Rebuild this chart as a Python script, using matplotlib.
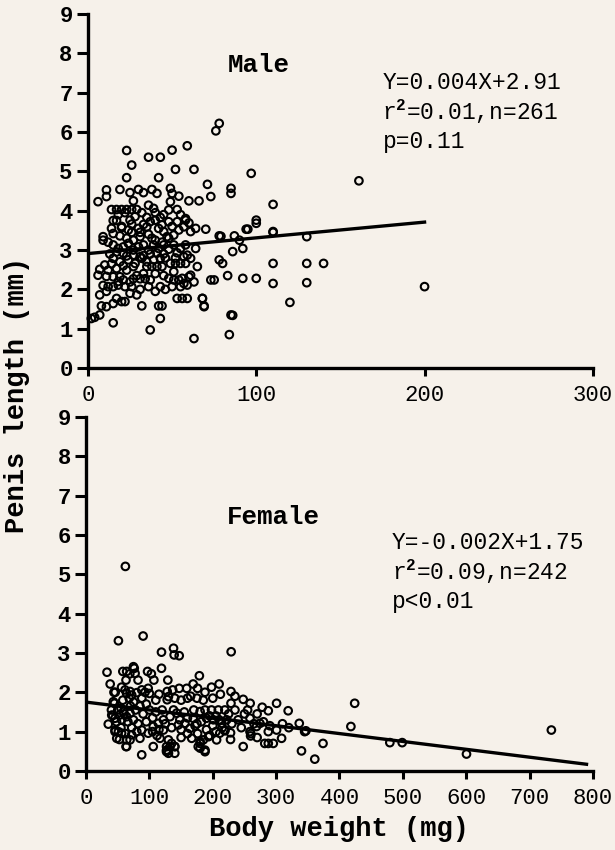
import matplotlib
matplotlib.use("Agg")
import matplotlib.pyplot as plt
import numpy as np

plt.rcParams['font.family'] = ['Liberation Mono', 'DejaVu Sans']
plt.rcParams['mathtext.fontset'] = 'custom'
plt.rcParams['mathtext.rm'] = 'Liberation Mono:bold'
plt.rcParams['mathtext.it'] = 'Liberation Mono:bold'

BG = '#f6f1ea'

# Male: body weight (mg) vs penis length (mm)
male_x = [76, 78, 23, 59, 36, 43, 50, 26, 52, 63, 23, 42, 97, 71, 11, 19, 25, 30, 33, 38,
          41, 49, 50, 54, 11, 6, 60, 66, 73, 85, 85, 110, 27, 36, 39, 14, 17, 20, 23, 26,
          29, 49, 48, 53, 43, 35, 37, 15, 17, 25, 26, 40, 44, 48, 53, 58, 60, 57, 64, 70,
          100, 100, 94, 110, 14, 20, 24, 30, 35, 9, 9, 15, 19, 23, 27, 31, 38, 42, 45, 47,
          51, 54, 61, 78, 87, 79, 90, 95, 110, 130, 15, 18, 21, 24, 27, 30, 33, 36, 39, 42,
          45, 48, 51, 55, 58, 21, 27, 37, 45, 53, 92, 86, 64, 31, 33, 41, 43, 57, 61, 59,
          15, 19, 24, 28, 32, 78, 80, 110, 130, 140, 65, 10, 7, 12, 17, 23, 27, 35, 38, 41,
          44, 49, 52, 55, 58, 6, 11, 15, 19, 21, 25, 27, 31, 34, 37, 48, 51, 54, 56, 57,
          60, 63, 61, 73, 75, 83, 92, 100, 110, 130, 200, 120, 68, 69, 86, 84, 63, 12, 15, 18,
          22, 26, 36, 43, 50, 55, 59, 7, 17, 22, 29, 53, 56, 59, 68, 69, 8, 11, 15, 20,
          32, 42, 44, 43, 85, 2, 4, 7, 15, 37, 18, 22, 28, 32, 40, 45, 55, 58, 33, 20,
          50, 31, 36, 40, 44, 12, 48, 26, 17, 23, 35, 39, 46, 52, 13, 29, 33, 40, 45, 51,
          21, 14, 18, 31, 40, 46, 25, 11, 9, 161]
male_y = [6.03, 6.22, 5.53, 5.65, 5.36, 5.36, 5.54, 5.16, 5.05, 5.05, 4.84, 4.84, 4.95, 4.67, 4.53, 4.54, 4.46, 4.54, 4.46, 4.54,
          4.44, 4.57, 4.44, 4.37, 4.36, 4.23, 4.25, 4.25, 4.36, 4.57, 4.44, 4.16, 4.25, 4.14, 4.06, 4.03, 4.03, 4.03, 4.03, 4.03,
          4.03, 4.23, 4.02, 4.03, 3.83, 3.83, 3.72, 3.75, 3.75, 3.76, 3.66, 3.76, 3.64, 3.72, 3.72, 3.76, 3.69, 3.59, 3.55, 3.53,
          3.76, 3.68, 3.53, 3.47, 3.55, 3.57, 3.51, 3.55, 3.59, 3.34, 3.25, 3.42, 3.36, 3.30, 3.25, 3.34, 3.30, 3.55, 3.47, 3.34,
          3.38, 3.51, 3.47, 3.36, 3.36, 3.35, 3.25, 3.53, 3.45, 3.34, 3.13, 3.04, 3.08, 3.17, 3.00, 3.08, 3.13, 3.00, 3.13, 3.04,
          3.13, 3.02, 3.13, 3.04, 3.13, 2.92, 2.87, 2.90, 2.90, 2.93, 3.04, 2.96, 3.04, 2.83, 2.86, 2.92, 2.79, 2.83, 2.79, 2.87,
          2.79, 2.70, 2.75, 2.66, 2.79, 2.75, 2.66, 2.66, 2.66, 2.66, 2.58, 2.62, 2.51, 2.49, 2.53, 2.49, 2.58, 2.58, 2.58, 2.58,
          2.58, 2.66, 2.66, 2.66, 2.66, 2.36, 2.33, 2.32, 2.32, 2.24, 2.19, 2.27, 2.27, 2.27, 2.24, 2.28, 2.24, 2.24, 2.28, 2.15,
          2.32, 2.19, 2.36, 2.24, 2.24, 2.35, 2.28, 2.28, 2.15, 2.17, 2.07, 1.67, 1.77, 1.56, 1.34, 0.85, 0.75, 2.07, 2.07, 2.11,
          2.07, 2.07, 2.07, 2.07, 2.07, 2.07, 2.11, 1.86, 1.77, 1.69, 1.86, 1.77, 1.77, 1.77, 1.77, 1.58, 1.58, 1.56, 1.64, 1.69,
          1.58, 1.58, 1.58, 1.26, 1.35, 1.26, 1.29, 1.35, 1.15, 0.97, 3.90, 3.95, 3.85, 3.95, 3.95, 3.90, 3.90, 3.80, 3.65, 3.60,
          3.60, 3.45, 3.40, 3.25, 3.20, 3.20, 3.30, 3.45, 2.95, 2.85, 2.70, 2.75, 2.80, 2.80, 2.90, 2.35, 2.40, 2.40, 2.35, 2.45,
          2.60, 2.65, 2.20, 2.00, 1.95, 2.00, 1.90, 1.95, 2.10, 4.76]

# Female
female_x = [51, 90, 119, 138, 139, 147, 229, 33, 38, 46, 58, 64, 69, 76, 82, 63, 97, 103, 107, 119,
            129, 98, 93, 56, 61.5, 69.4, 80, 87.8, 128, 128, 130, 136.7, 147, 158.8, 169, 178.8, 176, 187.7, 198, 210,
            160, 228.7, 228.7, 248, 259, 278, 287.6, 300.7, 319, 336.5, 347, 424, 418, 44.7, 42, 35, 45.7, 51, 52.6, 63,
            87.8, 106, 127, 127, 135, 140, 177, 180, 187.7, 248, 258.7, 258.7, 259.7, 282, 287.6, 295.5, 308.6, 340, 361, 374,
            228, 219, 228, 287.6, 300.7, 269, 274.4, 479.5, 499, 600.5, 734.5, 62, 74.7, 77.3, 44, 64, 72, 100,
            43, 40.5, 45.7, 52.6, 56, 59, 64, 69.4, 74.7, 45.7, 48.4, 56, 64, 72, 80, 87.8, 85, 69.4, 64, 116.7,
            122, 130, 132.5, 140, 127, 140, 130, 98, 106, 114, 122, 132.5, 143, 145.6, 156, 164, 169, 180, 187.7, 198,
            208.7, 219, 190, 201, 214, 222, 166.7, 180, 187.7, 180, 185, 193, 206, 211, 219, 50,
            55, 60, 66, 72, 78, 82, 90, 95, 100, 105, 110, 115, 120, 125, 135, 138, 148, 150, 155, 160,
            170, 172, 176, 182, 190, 195, 200, 205, 210, 215, 225, 230, 235, 240, 245, 250, 255, 265, 270, 280,
            290, 310, 320, 58, 68, 75, 88, 110, 115, 140, 150, 165, 175, 185, 200, 212, 235, 40, 48, 55,
            62, 70, 85, 95, 105, 112, 150, 160, 175, 195, 205, 260, 270, 345]
female_y = [3.31, 3.43, 3.02, 3.12, 2.95, 2.93, 3.03, 2.51, 2.21, 2.00, 2.53, 2.53, 2.47, 2.61, 2.31, 2.31, 2.53, 2.47, 2.31, 2.61,
            2.31, 2.10, 2.00, 2.13, 2.06, 2.02, 1.99, 2.06, 2.02, 1.81, 1.89, 2.06, 2.10, 2.10, 2.21, 2.42, 2.10, 2.00, 2.13, 2.21,
            1.85, 2.02, 1.72, 1.82, 1.72, 1.62, 1.53, 1.72, 1.53, 1.21, 1.02, 1.72, 1.13, 1.72, 1.41, 1.19, 1.00, 1.00, 0.80, 0.62,
            0.41, 0.62, 0.62, 0.49, 0.70, 0.62, 0.62, 0.70, 0.49, 0.62, 1.34, 1.00, 0.89, 0.70, 0.70, 0.70, 0.83, 0.51, 0.30, 0.70,
            0.80, 1.02, 0.97, 1.00, 1.04, 1.13, 1.21, 0.72, 0.72, 0.43, 1.04, 5.20, 2.65, 2.48, 2.00, 1.97, 1.93, 1.97,
            1.76, 1.42, 1.34, 1.42, 1.30, 1.51, 1.38, 1.47, 1.30, 1.04, 0.83, 0.96, 0.79, 0.92, 1.00, 1.04, 0.83, 0.79, 0.62, 0.83,
            1.04, 0.79, 0.62, 0.62, 0.53, 0.45, 0.45, 0.96, 1.13, 1.21, 1.30, 1.38, 1.47, 1.17, 1.21, 1.08, 1.34, 1.51, 1.55, 1.55,
            1.55, 1.55, 1.34, 1.30, 1.21, 1.30, 0.83, 0.75, 0.53, 0.58, 0.79, 0.87, 0.79, 0.96, 1.04, 1.55,
            1.60, 1.45, 1.25, 1.10, 1.55, 1.20, 1.45, 1.25, 1.55, 1.35, 1.50, 1.05, 1.55, 1.20, 1.10, 1.55, 1.30, 1.05, 1.50, 1.35,
            1.55, 1.15, 0.95, 1.25, 1.05, 1.40, 1.15, 1.40, 1.30, 1.10, 1.45, 1.20, 1.55, 1.30, 1.10, 1.45, 1.55, 1.20, 1.45, 1.25,
            1.15, 1.20, 1.10, 1.80, 1.85, 1.75, 1.85, 1.80, 1.95, 1.85, 1.80, 1.90, 1.85, 1.80, 1.85, 1.95, 1.90, 1.55, 1.25, 1.10,
            0.95, 1.65, 1.65, 1.70, 1.00, 0.90, 0.85, 0.95, 1.20, 0.90, 1.00, 0.95, 0.85, 1.00]

male_fit = (0.004, 2.91, 0, 200)
female_fit = (-0.002, 1.75, 0, 790)
male_text = ['Y=0.004X+2.91', 'r$^{2}$=0.01,n=261', 'p=0.11']
female_text = ['Y=-0.002X+1.75', 'r$^{2}$=0.09,n=242', 'p<0.01']


def panel(ax, xs, ys, fit, xmax, xstep, title, title_pos, lines, text_pos):
    ax.set_facecolor(BG)
    ax.scatter(xs, ys, s=30, facecolors='none', edgecolors='black', linewidths=1.5,
               clip_on=False, zorder=3)
    slope, icpt, x0, x1 = fit
    fx = np.array([x0, x1])
    ax.plot(fx, slope * fx + icpt, color='black', lw=2.4, zorder=4)

    ax.set_xlim(0, xmax)
    ax.set_ylim(0, 9)
    ax.set_xticks(np.arange(0, xmax + 1, xstep))
    ax.set_yticks(range(10))
    for s in ['top', 'right']:
        ax.spines[s].set_visible(False)
    for s in ['left', 'bottom']:
        ax.spines[s].set_linewidth(2.4)
    ax.tick_params(axis='y', direction='out', length=8, width=2.2, pad=3, labelsize=16)
    ax.tick_params(axis='x', direction='out', length=6, width=2.2, pad=6, labelsize=16)
    for lab in ax.get_yticklabels():
        lab.set_fontweight('bold')

    ax.text(title_pos[0], title_pos[1], title, fontsize=18.5, fontweight='bold',
            ha='left', va='center')
    tx, ty, dy = text_pos
    for i, line in enumerate(lines):
        ax.text(tx, ty - i * dy, line, fontsize=16.5, ha='left', va='center')


fig = plt.figure(figsize=(6.15, 8.5), dpi=100, facecolor=BG)
ax1 = fig.add_axes([0.143, 0.567, 0.821, 0.4165])
ax2 = fig.add_axes([0.140, 0.093, 0.824, 0.4165])

panel(ax1, male_x, male_y, male_fit, 300, 100, 'Male', (83, 7.7), male_text, (175, 7.27, 0.76))
panel(ax2, female_x, female_y, female_fit, 800, 100, 'Female', (222, 6.45), female_text, (483, 5.82, 0.76))

ax2.set_xlabel('Body weight (mg)', fontsize=19.5, fontweight='bold', labelpad=5)
fig.text(0.028, 0.535, 'Penis length (mm)', rotation=90, fontsize=19.5, fontweight='bold',
         ha='center', va='center')

fig.savefig('out.png', dpi=100, facecolor=BG)
